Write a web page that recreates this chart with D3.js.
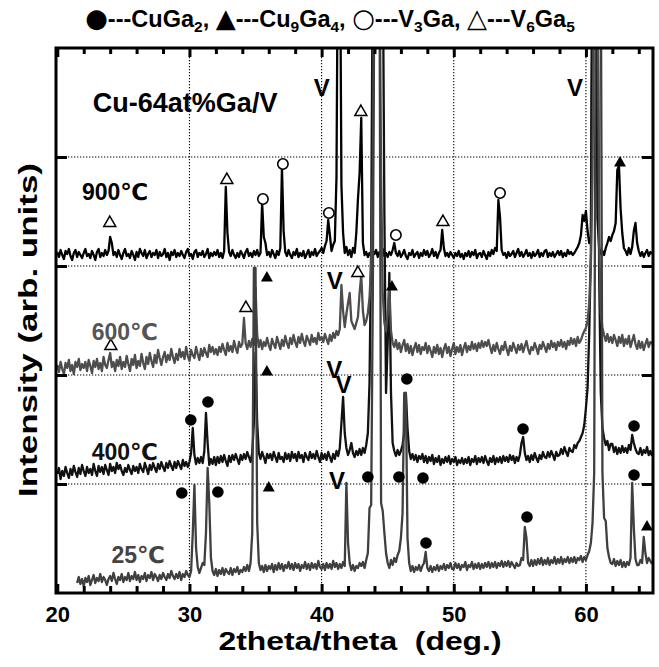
<!DOCTYPE html>
<html><head><meta charset="utf-8">
<script src="https://cdn.jsdelivr.net/npm/d3@7"></script>
<style>body{margin:0;background:#fff}svg{display:block}text{font-family:"Liberation Sans",Arial,"DejaVu Sans",sans-serif;font-weight:bold}</style>
</head><body><svg id="c" width="659" height="667"></svg>
<script>
// ---------- data ----------
const xMajorTicks = [20,30,40,50,60];
const xMinorTicks = [22,24,26,28,32,34,36,38,42,44,46,48,52,54,56,58,62,64];
const xGrid = [30,40,50,60];
const yGrid = [109,218,327,436];

// scan: 2theta from 20 to 65 deg, step 0.125 deg; intensities in arb. units
const scanStart = 20, scanStep = 0.125;
const i900 = [
341,336,343,338,334,342,339,344, 337,333,340,343,336,341,338,335,
340,344,337,339,335,342,338,333, 341,344,336,340,337,343,338,342,
356,350,338,341,336,343,338,334, 340,344,337,339,335,342,338,333,
341,336,344,340,337,343,335,339, 342,336,340,338,343,335,341,337,
339,344,336,340,333,341,338,343, 336,340,337,342,338,335,341,344,
337,339,334,341,343,336,340,338, 342,336,339,344,335,340,337,341,
338,343,336,340,335,342,406,360, 341,337,343,338,335,340,336,342,
339,335,341,344,337,340,336,342, 338,343,337,340,390,356,350,338,
341,336,343,339,335,342,338,345, 425,362,341,337,343,338,335,341,
338,344,336,340,337,342,335,339, 343,336,341,338,344,337,340,342,
345,340,347,352,373,358,342,348, 352,416,700,700,408,360,340,346,
338,343,336,345,340,360,394,420, 475,350,338,341,336,340,337,342,
339,343,336,341,338,344,337,340, 336,341,338,343,350,340,337,342,
336,339,343,337,334,340,338,343, 336,339,341,335,340,337,343,338,
342,336,339,344,337,341,335,340, 343,363,345,337,340,336,341,338,
335,340,337,342,336,339,334,340, 337,342,336,341,338,343,335,339,
340,336,342,338,334,341,337,343, 339,345,342,393,376,343,338,340,
335,341,337,339,342,336,340,344, 337,341,336,339,343,337,340,335,
341,337,339,343,336,340,337,342, 343,336,340,337,341,336,339,342,
338,342,336,340,337,343,339,341, 338,340,343,346,350,358,378,372,
382,362,350,352,700,700,700,375, 345,339,342,338,345,350,356,352,
358,362,370,423,427,384,360,345, 342,338,345,339,346,362,370,350,
342,337,341,336,340,343,337,341, 339];

const i600 = [
228,221,231,224,219,230,225,233, 222,228,219,231,226,234,223,229,
225,231,222,233,227,220,232,226, 234,224,230,222,236,228,225,233,
240,226,231,222,233,227,236,224, 231,226,237,229,222,234,228,238,
225,232,227,239,230,224,236,229, 240,232,226,238,230,243,235,228,
236,241,231,238,233,244,236,230, 239,233,244,236,241,234,246,237,
232,243,238,235,246,239,233,244, 237,245,240,236,248,241,246,239,
244,238,246,241,249,243,238,250, 242,247,241,252,245,240,251,246,
249,275,250,244,252,246,254,248, 305,258,246,253,244,251,247,255,
248,243,254,249,245,256,250,244, 253,247,257,250,245,255,249,258,
251,246,256,250,259,252,247,257, 253,248,258,251,255,249,260,253,
256,251,259,254,249,258,252,260, 255,262,258,264,308,282,266,279,
290,300,272,268,264,270,276,300, 318,282,268,272,280,295,330,420,
650,650,650,650,420,300,270,262, 280,306,262,250,246,253,244,250,
241,248,253,242,249,240,247,238, 245,250,241,248,239,246,243,250,
240,247,242,236,246,240,248,239, 245,236,244,249,240,246,237,244,
250,239,246,241,248,238,245,250, 241,247,243,251,244,249,242,250,
245,252,246,251,247,253,246,240, 248,242,250,244,239,247,243,251,
244,238,247,242,250,245,240,248, 243,249,241,247,252,244,239,246,
243,250,245,239,248,244,251,246, 241,249,244,252,246,250,243,251,
247,253,246,251,244,252,248,255, 249,254,247,256,250,253,258,262,
265,272,290,330,420,650,650,650, 350,280,265,258,252,259,251,256,
250,258,253,247,256,250,258,247, 254,249,257,246,252,258,249,244,
252,245,251,243,249,254,246,251, 249];

const i400 = [
119,125,114,122,117,126,120,115, 124,118,127,121,116,125,119,128,
122,117,126,120,124,118,129,122, 117,127,121,126,119,128,123,118,
129,122,126,120,130,124,128,122, 118,125,121,128,123,119,127,122,
126,120,129,124,121,130,125,119, 128,123,130,125,121,129,124,131,
126,122,130,125,132,127,123,131, 125,132,128,124,133,127,131,126,
131,140,165,138,129,135,130,136, 130,142,180,150,128,134,129,136,
128,136,130,137,131,138,132,127, 137,131,138,133,139,134,129,138,
133,139,134,141,136,131,140,170, 240,170,140,134,141,136,130,139,
135,139,133,141,136,131,140,134, 136,131,140,134,139,132,141,135,
139,132,141,135,138,131,140,136, 133,141,135,139,134,142,136,131,
140,134,139,133,141,136,131,139, 134,142,137,145,170,196,160,145,
138,143,150,140,136,142,138,144, 138,145,140,148,160,210,350,650,
650,650,650,650,650,650,380,200, 250,320,200,150,142,137,143,138,
142,148,160,200,165,142,134,139, 133,138,131,137,134,139,131,137,
130,136,132,138,129,135,131,137, 128,134,130,136,131,137,129,134,
131,136,128,133,130,135,129,134, 130,136,128,134,131,137,129,135,
131,136,130,137,132,128,135,131, 137,129,135,131,136,130,137,132,
136,131,138,133,137,130,136,132, 138,150,156,140,133,137,131,138,
133,140,135,131,138,134,141,136, 135,141,136,142,138,133,141,137,
138,144,139,146,141,137,145,142, 141,148,145,150,152,156,160,168,
185,205,260,340,650,650,650,650, 320,200,165,155,148,152,143,149,
149,141,146,139,145,140,147,141, 145,140,148,143,158,150,144,140,
139,145,138,143,140,146,138,142, 137];

const i25 = [
null,null,null,null,null,null,null,null, null,null,null,null,10,16,9,14,
7,15,11,17,8,13,18,10, 15,12,19,11,16,13,8,14,
17,12,20,14,9,16,13,19, 11,16,13,20,12,17,14,21,
13,18,11,17,14,20,12,18, 15,21,13,19,16,12,18,14,
20,16,13,19,15,22,17,14, 19,15,21,13,19,16,22,18,
16,22,60,108,45,26,20,25, 30,28,60,125,90,35,22,18,
24,17,23,19,25,18,24,21, 19,25,18,24,21,26,19,23,
21,26,22,28,22,30,60,325, 325,70,30,23,27,21,28,22,
27,24,29,21,28,23,30,24, 29,22,28,25,31,24,29,23,
30,25,29,22,28,25,31,24, 29,23,30,25,29,24,32,26,
24,29,23,30,25,29,24,32, 26,30,24,29,25,31,27,110,
50,30,23,28,22,27,25,30, 27,31,25,33,40,85,88,300,
650,650,650,650,90,82,60,40, 30,25,33,28,35,31,38,42,
55,80,200,200,55,30,22,27, 21,26,23,28,22,27,30,41,
25,22,27,21,26,23,28,22, 27,24,29,23,28,25,30,24,
24,30,25,29,23,28,26,31, 23,28,26,31,24,29,25,30,
24,29,25,30,26,31,25,30, 26,31,25,30,27,32,26,31,
27,32,26,31,28,25,30,27, 28,35,33,66,55,30,27,33,
27,33,28,34,29,35,28,33, 29,35,28,33,30,36,29,34,
30,36,29,34,31,36,30,35, 31,36,30,35,33,37,31,36,
33,38,42,50,70,120,650,650, 650,650,120,75,72,45,36,30,
29,34,27,32,28,33,26,31, 26,31,28,35,110,65,34,28,
28,33,30,56,40,30,35,32, 29];

// phase markers (2theta, intensity)
const cuGa2Marks = [[30.1,173],[31.4,191],[46.45,214],[55.24,164],[63.64,167],[29.42,100],[32.15,101],[43.5,116],[45.85,116],[47.67,115],[47.9,50],[55.54,76],[63.64,118]];
const cu9Ga4Marks = [[62.58,430],[35.86,315],[45.32,306],[35.86,221],[36.0,105],[64.62,66]];
const v3GaMarks = [[35.56,394],[37.07,429],[40.55,380],[45.62,358],[53.5,400]];
const v6Ga5Marks = [[23.97,370],[32.83,413],[42.97,481],[49.18,371],[24.05,247],[34.27,285],[42.74,320]];
const vMarks = [[40.02,506],[59.17,506],[41.0,313],[40.95,224],[41.65,209],[41.16,113]];

const sampleLabels = ["900℃","600℃","400℃","25℃"];
const sampleLabelAnchors = [[21.86,393],[22.6,253],[22.6,133],[24.1,30]];
const sampleColors = ["#000000","#555555","#111111","#444444"];
const traceColors = ["#000000","#4d4d4d","#111111","#3f3f3f"];

// ---------- drawing ----------
const svg = d3.select('#c');
const X0 = 56, X1 = 653, Y0 = 48, Y1 = 593;
const x = d3.scaleLinear().domain([20,65]).range([57.3,652]);
const y = d3.scaleLinear().domain([0,545]).range([Y1,Y0]);

svg.append('defs').append('clipPath').attr('id','clip')
  .append('rect').attr('x',X0).attr('y',Y0).attr('width',X1-X0).attr('height',Y1-Y0);

// gridlines
const grid = svg.append('g');
grid.selectAll('line.v').data(xGrid).join('line').attr('class','v')
  .attr('x1',d=>x(d)).attr('x2',d=>x(d)).attr('y1',Y0).attr('y2',Y1);
grid.selectAll('line.h').data(yGrid).join('line').attr('class','h')
  .attr('x1',X0).attr('x2',X1).attr('y1',d=>y(d)).attr('y2',d=>y(d));
grid.selectAll('line').attr('stroke','#000').attr('stroke-width',1.1).attr('stroke-dasharray','1.3,1.7');

// traces
const toPts = arr => arr.map((v,i)=>[scanStart + i*scanStep, v]);
const line = d3.line().defined(d=>d[1]!==null).x(d=>x(d[0])).y(d=>y(d[1]));
const traces = [[i900,traceColors[0]],[i400,traceColors[2]],[i600,traceColors[1]],[i25,traceColors[3]]];
const tg = svg.append('g').attr('clip-path','url(#clip)');
traces.forEach(t=>{
  tg.append('path').datum(toPts(t[0])).attr('d',line).attr('fill','none')
    .attr('stroke',t[1]).attr('stroke-width',2.3).attr('stroke-linejoin','round');
});

// markers
const mk = svg.append('g');
mk.selectAll('circle.f').data(cuGa2Marks).join('circle').attr('class','f')
  .attr('cx',d=>x(d[0])).attr('cy',d=>y(d[1])).attr('r',5.8).attr('fill','#000');
mk.selectAll('circle.o').data(v3GaMarks).join('circle').attr('class','o')
  .attr('cx',d=>x(d[0])).attr('cy',d=>y(d[1])).attr('r',5.2).attr('fill','#fff').attr('stroke','#000').attr('stroke-width',1.6);
const tri = d3.symbol().type(d3.symbolTriangle).size(62);
mk.selectAll('path.ft').data(cu9Ga4Marks).join('path').attr('class','ft')
  .attr('d',tri).attr('transform',d=>`translate(${x(d[0])},${y(d[1])})`).attr('fill','#000');
mk.selectAll('path.ot').data(v6Ga5Marks).join('path').attr('class','ot')
  .attr('d',tri).attr('transform',d=>`translate(${x(d[0])},${y(d[1])})`).attr('fill','#fff').attr('stroke','#000').attr('stroke-width',1.5);
mk.selectAll('text.vm').data(vMarks).join('text').attr('class','vm')
  .attr('x',d=>x(d[0])).attr('y',d=>y(d[1])+8.5).attr('text-anchor','middle')
  .attr('font-size',24).attr('fill','#000').text('V');

// sample labels
svg.append('g').selectAll('text').data(sampleLabels).join('text')
  .attr('x',(d,i)=>x(sampleLabelAnchors[i][0])).attr('y',(d,i)=>y(sampleLabelAnchors[i][1]))
  .attr('font-size',23).attr('fill',(d,i)=>sampleColors[i]).text(d=>d);

svg.append('text').attr('x',x(22.69)).attr('y',y(481)).attr('font-size',27).attr('fill','#000').text('Cu-64at%Ga/V');

// axes
function styleAxis(g){ g.select('.domain').remove(); g.selectAll('.tick line').attr('stroke','#000').attr('stroke-width',3); }
svg.append('g').attr('transform',`translate(0,${Y1})`)
  .call(d3.axisBottom(x).tickValues(xMajorTicks).tickSize(-9).tickPadding(13).tickFormat(d3.format('d')))
  .call(styleAxis)
  .call(g=>g.selectAll('text').attr('font-size',22).attr('font-family','"Liberation Sans",Arial,sans-serif').attr('font-weight','bold').attr('fill','#000'));
svg.append('g').attr('transform',`translate(0,${Y1})`)
  .call(d3.axisBottom(x).tickValues(xMinorTicks).tickSize(-7).tickFormat(''))
  .call(styleAxis);
svg.append('g').attr('transform',`translate(0,${Y0})`)
  .call(d3.axisTop(x).tickValues(xMajorTicks).tickSize(-9).tickFormat(''))
  .call(styleAxis);
svg.append('g').attr('transform',`translate(0,${Y0})`)
  .call(d3.axisTop(x).tickValues(xMinorTicks).tickSize(-6).tickFormat(''))
  .call(styleAxis);
svg.append('g').attr('transform',`translate(${X0},0)`)
  .call(d3.axisLeft(y).tickValues(yGrid).tickSize(-11).tickFormat(''))
  .call(styleAxis);
svg.append('g').attr('transform',`translate(${X1},0)`)
  .call(d3.axisRight(y).tickValues(yGrid).tickSize(-11).tickFormat(''))
  .call(styleAxis);

// frame
svg.append('rect').attr('x',X0).attr('y',Y0).attr('width',X1-X0).attr('height',Y1-Y0)
  .attr('fill','none').attr('stroke','#000').attr('stroke-width',3);

// axis titles
svg.append('text').attr('x',360).attr('y',650).attr('text-anchor','middle').attr('font-size',26)
  .attr('textLength',283).attr('lengthAdjust','spacingAndGlyphs').style('white-space','pre')
  .text('2theta/theta  (deg.)');
svg.append('text').attr('transform','translate(37,330) rotate(-90)').attr('text-anchor','middle').attr('font-size',26)
  .attr('textLength',334).attr('lengthAdjust','spacingAndGlyphs')
  .text('Intensity (arb. units)');

// legend
const legendParts = [["●","s"],["---CuGa","t"],["2","b"],[", ","t"],["▲","s"],["---Cu","t"],["9","b"],["Ga","t"],["4","b"],[", ","t"],["○","s"],["---V","t"],["3","b"],["Ga, ","t"],["△","s"],["---V","t"],["6","b"],["Ga","t"],["5","b"]];
const lt = svg.append('text').attr('x',330).attr('y',27).attr('text-anchor','middle').style('font-size','23.5px').style('white-space','pre');
let sub=false;
legendParts.forEach(p=>{
  const ts = lt.append('tspan').text(p[0]);
  if(p[1]==='b'){ ts.style('font-size','15.5px'); if(!sub){ts.attr('dy',4.5);} sub=true; }
  else { if(sub){ts.attr('dy',-4.5);} sub=false; if(p[1]==='s') ts.style('font-size','26px').style('font-family','"DejaVu Sans",sans-serif'); }
});
</script></body></html>
